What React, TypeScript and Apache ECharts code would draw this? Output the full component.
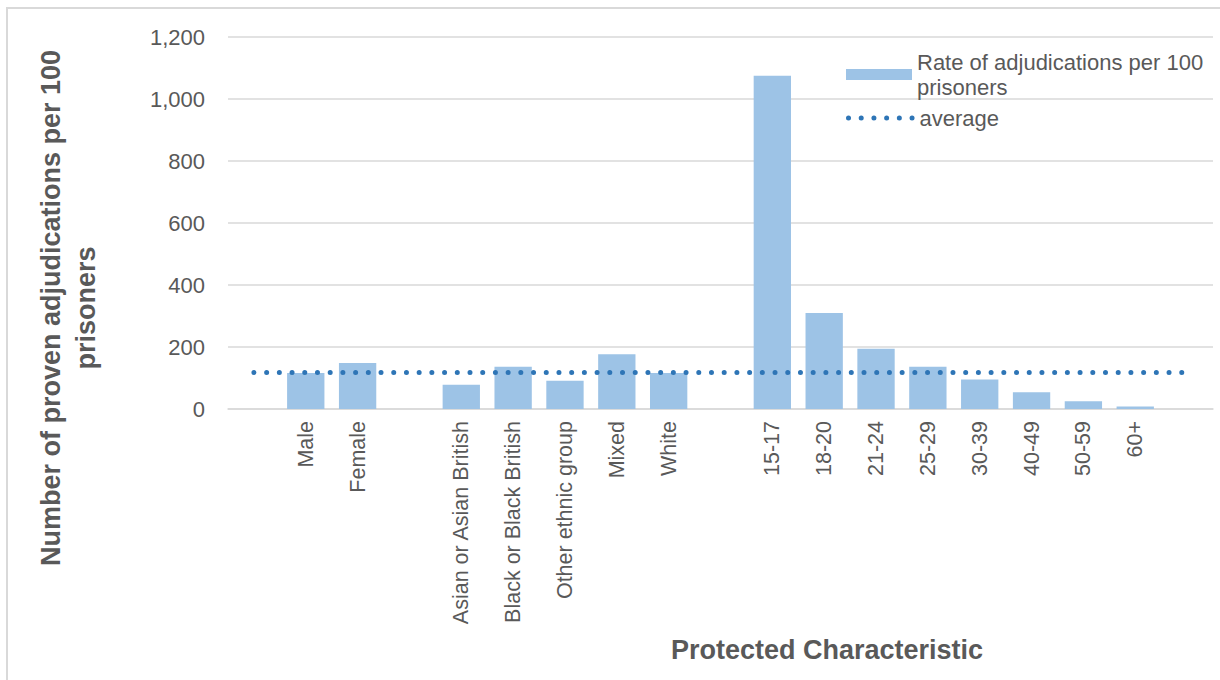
import React, { useEffect, useRef } from "react";
import * as echarts from "echarts";

const CATEGORIES = [
  "",
  "Male",
  "Female",
  "",
  "Asian or Asian British",
  "Black or Black British",
  "Other ethnic group",
  "Mixed",
  "White",
  "",
  "15-17",
  "18-20",
  "21-24",
  "25-29",
  "30-39",
  "40-49",
  "50-59",
  "60+",
  "",
];

const RATE_VALUES: (number | null)[] = [
  null, 116, 148, null, 78, 136, 91, 177, 116, null,
  1075, 310, 194, 136, 95, 54, 25, 8, null,
];

const AVERAGE_VALUE = 118;
const AVERAGE_VALUES = CATEGORIES.map(() => AVERAGE_VALUE);

const Y_TICKS = [0, 200, 400, 600, 800, 1000, 1200];

const RATE_NAME = "Rate of adjudications per 100\nprisoners";
const AVG_NAME = "average";
const Y_TITLE = "Number of proven adjudications per 100\nprisoners";
const X_TITLE = "Protected Characteristic";

const FONT = "'Liberation Sans', Arial, Helvetica, sans-serif";
const TEXT = "#595959";
const BAR = "#9DC3E6";
const DOT = "#2E75B6";
const GRID = "#D9D9D9";
const DOT_STYLE = { color: DOT, width: 5, type: [0.01, 12.7], cap: "round" };

export default function App() {
  const ref = useRef<HTMLDivElement>(null);
  useEffect(() => {
    if (!ref.current) return;
    const chart = echarts.init(ref.current, null, { renderer: "svg" });
    chart.setOption({
      animation: false,
      backgroundColor: "#ffffff",
      textStyle: { fontFamily: FONT },
      grid: { left: 228, right: 7, top: 37, bottom: 271, containLabel: false },
      legend: [
        {
          orient: "vertical",
          left: 841,
          top: 46,
          itemWidth: 66,
          itemHeight: 11,
          data: [{ name: RATE_NAME, icon: "rect" }],
          textStyle: {
            color: TEXT,
            fontSize: 22,
            lineHeight: 25,
            height: 25,
            fontFamily: FONT,
          },
        },
        {
          orient: "vertical",
          left: 841,
          top: 102,
          itemWidth: 66,
          itemHeight: 11,
          data: [{ name: AVG_NAME }],
          itemStyle: { opacity: 0 },
          lineStyle: DOT_STYLE,
          textStyle: { color: TEXT, fontSize: 22, fontFamily: FONT },
        },
      ],
      xAxis: {
        type: "category",
        data: CATEGORIES,
        axisLine: { show: true, lineStyle: { color: GRID, width: 1.5 } },
        axisTick: { show: false },
        axisLabel: {
          interval: 0,
          rotate: 90,
          margin: 12,
          color: TEXT,
          fontSize: 21.5,
          fontFamily: FONT,
        },
      },
      yAxis: {
        type: "value",
        min: Y_TICKS[0],
        max: Y_TICKS[Y_TICKS.length - 1],
        interval: Y_TICKS[1] - Y_TICKS[0],
        axisLine: { show: false },
        axisTick: { show: false },
        splitLine: { show: true, lineStyle: { color: GRID, width: 1.5 } },
        axisLabel: {
          margin: 23,
          color: TEXT,
          fontSize: 22,
          fontFamily: FONT,
          formatter: (v: number) => v.toLocaleString("en-US"),
        },
      },
      series: [
        {
          name: RATE_NAME,
          type: "bar",
          data: RATE_VALUES,
          barWidth: "72%",
          itemStyle: { color: BAR },
        },
        {
          name: AVG_NAME,
          type: "line",
          data: AVERAGE_VALUES,
          symbol: "none",
          lineStyle: DOT_STYLE,
          itemStyle: { color: DOT },
          z: 5,
        },
      ],
      graphic: [
        {
          type: "rect",
          shape: { x: 7, y: 8, width: 1400, height: 900 },
          style: { fill: "none", stroke: GRID, lineWidth: 2 },
          silent: true,
        },
        {
          type: "text",
          x: 68,
          y: 308,
          rotation: Math.PI / 2,
          style: {
            text: Y_TITLE,
            align: "center",
            verticalAlign: "middle",
            fill: TEXT,
            font: `bold 27px ${FONT}`,
            lineHeight: 35,
          },
        },
        {
          type: "text",
          x: 827,
          y: 650,
          style: {
            text: X_TITLE,
            align: "center",
            verticalAlign: "middle",
            fill: TEXT,
            font: `bold 27px ${FONT}`,
          },
        },
      ],
    });
    return () => chart.dispose();
  }, []);
  return (
    <div
      ref={ref}
      style={{ position: "absolute", left: 0, top: 0, width: 1220, height: 680 }}
    />
  );
}
